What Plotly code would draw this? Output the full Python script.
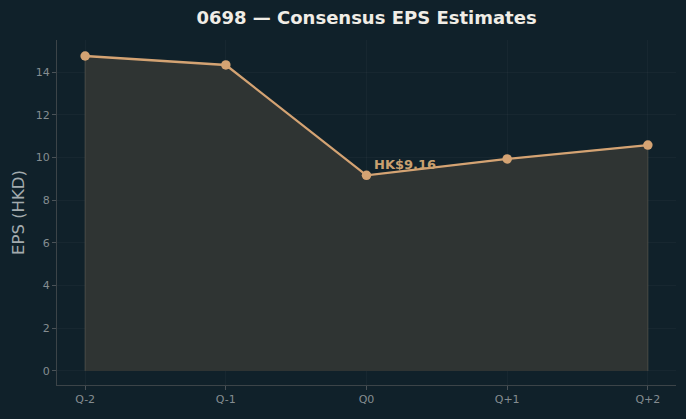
import plotly.graph_objects as go

quarters = ["Q-2", "Q-1", "Q0", "Q+1", "Q+2"]
eps = [14.75, 14.33, 9.16, 9.93, 10.58]
ytick_vals = [0, 2, 4, 6, 8, 10, 12, 14]

xs = list(range(len(quarters)))
bg = "#10212a"
line_col = "#d4a373"

fig = go.Figure()
fig.add_trace(go.Scatter(
    x=[xs[0]] + xs + [xs[-1]], y=[0] + eps + [0],
    fill="toself", fillcolor="rgb(47,52,51)",
    line=dict(color="rgba(90,88,80,0.7)", width=1),
    mode="lines", hoverinfo="skip", showlegend=False))
fig.add_trace(go.Scatter(
    x=xs, y=eps, mode="lines+markers",
    line=dict(color=line_col, width=2.3),
    marker=dict(color=line_col, size=9.5),
    showlegend=False))

fig.add_annotation(x=2, y=eps[2], text="<b>HK$%.2f</b>" % eps[2],
                   showarrow=False, xanchor="left", yanchor="bottom",
                   xshift=5, yshift=1,
                   font=dict(family="DejaVu Sans", size=13, color="#c9a06f"))

axis_common = dict(showline=True, linecolor="#3c4448", linewidth=1,
                   ticks="outside", ticklen=4, tickcolor="#4a5257",
                   gridcolor="rgba(255,255,255,0.03)", zeroline=False,
                   tickfont=dict(family="DejaVu Sans", size=11, color="#858d91"))

fig.update_layout(
    width=686, height=419,
    paper_bgcolor=bg, plot_bgcolor=bg,
    margin=dict(l=57, r=10, t=40, b=34),
    title=dict(text="<b>0698 — Consensus EPS Estimates</b>", x=0.5, xref="paper",
               xanchor="center", y=0.957, yanchor="middle",
               font=dict(family="DejaVu Sans", size=18, color="#f0ede6")),
    xaxis=dict(range=[-0.2, 4.2], tickvals=xs, ticktext=quarters, **axis_common),
    yaxis=dict(range=[-0.66, 15.5], tickvals=ytick_vals,
               title=dict(text="EPS (HKD)", font=dict(family="DejaVu Sans", size=16.5, color="#a3abae"),
                          standoff=7),
               **axis_common),
)

fig.write_html("out.html")
